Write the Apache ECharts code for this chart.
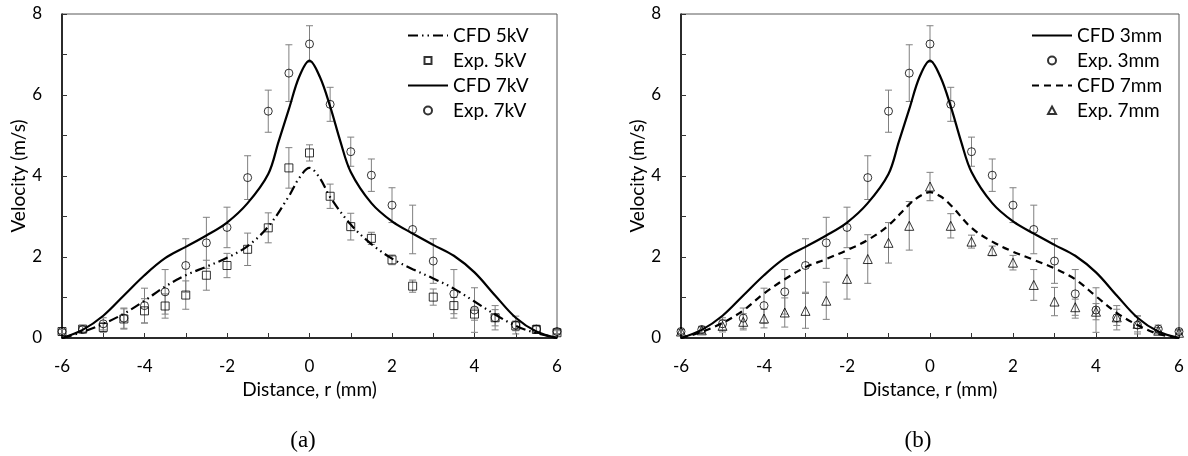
<!DOCTYPE html>
<html>
<head>
<meta charset="utf-8">
<script src="https://cdn.jsdelivr.net/npm/echarts@6/dist/echarts.min.js"></script>
<style>
html,body{margin:0;padding:0;background:#fff;}
#chart{width:1188px;height:456px;}
</style>
</head>
<body>
<div id="chart"></div>
<script>
// ---- Data ----
const expX = [-6,-5.5,-5,-4.5,-4,-3.5,-3,-2.5,-2,-1.5,-1,-0.5,0,0.5,1,1.5,2,2.5,3,3.5,4,4.5,5,5.5,6];

const exp7kV    = [0.16,0.21,0.35,0.49,0.80,1.14,1.79,2.35,2.73,3.96,5.60,6.54,7.26,5.77,4.60,4.02,3.28,2.68,1.90,1.09,0.69,0.50,0.32,0.22,0.16];
const exp7kVErr = [0.05,0.08,0.15,0.25,0.43,0.55,0.66,0.63,0.50,0.54,0.52,0.70,0.45,0.42,0.36,0.40,0.43,0.60,0.55,0.60,0.55,0.30,0.22,0.10,0.05];

const exp5kV    = [0.16,0.22,0.26,0.47,0.67,0.79,1.06,1.55,1.79,2.19,2.72,4.20,4.57,3.50,2.75,2.46,1.93,1.28,1.01,0.80,0.59,0.50,0.30,0.21,0.13];
const exp5kVErr = [0.05,0.07,0.12,0.25,0.30,0.30,0.35,0.37,0.30,0.40,0.37,0.50,0.20,0.30,0.33,0.15,0.12,0.15,0.20,0.20,0.15,0.20,0.12,0.08,0.05];

const exp3mm    = exp7kV;
const exp3mmErr = exp7kVErr;

const exp7mm    = [0.16,0.19,0.30,0.40,0.48,0.63,0.67,0.92,1.46,1.95,2.35,2.77,3.74,2.77,2.38,2.15,1.86,1.31,0.90,0.76,0.65,0.51,0.35,0.18,0.13];
const exp7mmErr = [0.05,0.08,0.15,0.20,0.23,0.36,0.43,0.46,0.50,0.60,0.50,0.60,0.35,0.30,0.16,0.12,0.18,0.38,0.35,0.20,0.20,0.20,0.20,0.08,0.05];

const cfd7kVX = [-6,-5.5,-5,-4.5,-4,-3.5,-3,-2.5,-2,-1.5,-1,-0.75,-0.5,-0.25,0,0.25,0.5,0.75,1,1.5,2,2.5,3,3.5,4,4.5,5,5.5,6];
const cfd7kV  = [0,0.20,0.55,1.05,1.55,1.97,2.25,2.53,2.85,3.33,4.05,4.85,5.65,6.45,6.85,6.45,5.72,4.85,4.10,3.33,2.88,2.58,2.30,2.03,1.62,1.05,0.50,0.16,0];

const cfd3mmX = cfd7kVX;
const cfd3mm  = cfd7kV;

const cfd5kVX = [-6,-5.5,-5,-4.5,-4,-3.5,-3,-2.5,-2,-1.5,-1,-0.5,-0.25,0,0.25,0.5,1,1.5,2,2.5,3,3.5,4,4.5,5,5.5,6];
const cfd5kV  = [0,0.15,0.35,0.60,0.92,1.27,1.55,1.76,1.98,2.27,2.75,3.50,3.95,4.20,3.95,3.48,2.80,2.32,1.96,1.70,1.47,1.22,0.90,0.58,0.30,0.12,0];

const cfd7mmX = [-6,-5.5,-5,-4.5,-4,-3.5,-3,-2.5,-2,-1.5,-1,-0.5,-0.25,0,0.25,0.5,1,1.5,2,2.5,3,3.5,4,4.5,5,5.5,6];
const cfd7mm  = [0,0.15,0.37,0.68,1.10,1.45,1.75,1.95,2.17,2.42,2.78,3.30,3.50,3.60,3.50,3.28,2.72,2.38,2.13,1.93,1.72,1.45,1.03,0.62,0.32,0.10,0];

const xTicks = [-6,-4,-2,0,2,4,6];
const yTicks = [0,2,4,6,8];

// ---- Helpers ----
const FONT = 'Lato';
const pair = (xs, ys) => xs.map((x,i) => [x, ys[i]]);
const triple = (xs, ys, es) => xs.map((x,i) => [x, ys[i], es[i]]);

function errRender(params, api) {
  const x = api.value(0), y = api.value(1), e = api.value(2);
  const t = api.coord([x, y + e]);
  const b = api.coord([x, y - e]);
  const hw = 3.5;
  const st = {stroke:'#808080', lineWidth:1};
  return {type:'group', children:[
    {type:'line', shape:{x1:t[0],y1:t[1],x2:b[0],y2:b[1]}, style:st},
    {type:'line', shape:{x1:t[0]-hw,y1:t[1],x2:t[0]+hw,y2:t[1]}, style:st},
    {type:'line', shape:{x1:b[0]-hw,y1:b[1],x2:b[0]+hw,y2:b[1]}, style:st}
  ]};
}

function xAxisCfg(gi) {
  return {
    type:'value', gridIndex:gi, min:-6, max:6, interval:1,
    name:'Distance, r (mm)', nameLocation:'middle', nameGap:37,
    nameTextStyle:{fontFamily:FONT, fontSize:19, color:'#000'},
    axisLine:{show:true, onZero:false, lineStyle:{color:'#000', width:1.5}},
    axisTick:{show:true, inside:true, length:5, lineStyle:{color:'#333'}},
    axisLabel:{fontFamily:FONT, fontSize:17, color:'#000', margin:20,
      formatter: v => xTicks.includes(v) ? String(v) : ''},
    splitLine:{show:false}
  };
}
function yAxisCfg(gi) {
  return {
    type:'value', gridIndex:gi, min:0, max:8, interval:1,
    name:'Velocity (m/s)', nameLocation:'middle', nameGap:32,
    nameTextStyle:{fontFamily:FONT, fontSize:19, color:'#000'},
    axisLine:{show:true, onZero:false, lineStyle:{color:'#000', width:1.5}},
    axisTick:{show:true, inside:true, length:5, lineStyle:{color:'#333'}},
    axisLabel:{fontFamily:FONT, fontSize:17, color:'#000', margin:20,
      formatter: v => yTicks.includes(v) ? String(v) : ''},
    splitLine:{show:false}
  };
}

function errSeries(name, gi, xs, ys, es) {
  return {name:name+' err', type:'custom', xAxisIndex:gi, yAxisIndex:gi,
    renderItem:errRender, data:triple(xs, ys, es), z:1, silent:true, clip:false};
}
function expSeries(name, gi, xs, ys, sym, size) {
  return {name:name, type:'scatter', xAxisIndex:gi, yAxisIndex:gi,
    symbol:sym, symbolSize:size, data:pair(xs, ys), z:3,
    itemStyle:{color:'rgba(0,0,0,0)', borderColor:'#000', borderWidth:1}};
}
function cfdSeries(name, gi, xs, ys, dash) {
  return {name:name, type:'line', xAxisIndex:gi, yAxisIndex:gi,
    data:pair(xs, ys), symbol:'none', smooth:0.35, z:4,
    itemStyle:{color:'#000'},
    lineStyle:{color:'#000', width:2.2, type:dash}};
}

// legend icons: 40x8 boxes with the marker drawn in the middle
const ICON_SQUARE   = 'path://M0,0M40,8M16.5,0.5L23.5,0.5L23.5,7.5L16.5,7.5Z';
const ICON_TRIANGLE = 'path://M0,0M40,8M20,0L24,7.5L16,7.5Z';
const ICON_CIRCLE   = 'circle';

const lineItem = n => ({name:n, itemStyle:{opacity:0}});
const symItem = (n, ic) => ({name:n, icon:ic});

const legendBase = {
  orient:'vertical', top:21, itemWidth:40, itemHeight:8, itemGap:6,
  textStyle:{fontFamily:FONT, fontSize:19, color:'#000'}
};

const option = {
  animation:false,
  backgroundColor:'#fff',
  grid:[
    {left:62, top:14, width:495, height:324, show:true, borderColor:'#595959', borderWidth:1, containLabel:false},
    {left:681, top:14, width:498, height:324, show:true, borderColor:'#595959', borderWidth:1, containLabel:false}
  ],
  xAxis:[xAxisCfg(0), xAxisCfg(1)],
  yAxis:[yAxisCfg(0), yAxisCfg(1)],
  legend:[
    Object.assign({}, legendBase, {left:402, data:[lineItem('CFD 5kV'), symItem('Exp. 5kV',ICON_SQUARE), lineItem('CFD 7kV'), symItem('Exp. 7kV',ICON_CIRCLE)]}),
    Object.assign({}, legendBase, {left:1026, data:[lineItem('CFD 3mm'), symItem('Exp. 3mm',ICON_CIRCLE), lineItem('CFD 7mm'), symItem('Exp. 7mm',ICON_TRIANGLE)]})
  ],
  title:[
    {text:'(a)', left:298, top:424, textAlign:'center', textStyle:{fontFamily:'Liberation Serif', fontSize:23, fontWeight:'normal', color:'#000'}},
    {text:'(b)', left:913, top:424, textAlign:'center', textStyle:{fontFamily:'Liberation Serif', fontSize:23, fontWeight:'normal', color:'#000'}}
  ],
  series:[
    errSeries('Exp. 7kV', 0, expX, exp7kV, exp7kVErr),
    errSeries('Exp. 5kV', 0, expX, exp5kV, exp5kVErr),
    cfdSeries('CFD 5kV', 0, cfd5kVX, cfd5kV, [10,4,1.5,4,1.5,4]),
    expSeries('Exp. 5kV', 0, expX, exp5kV, 'rect', 8),
    cfdSeries('CFD 7kV', 0, cfd7kVX, cfd7kV, 'solid'),
    expSeries('Exp. 7kV', 0, expX, exp7kV, 'circle', 8),

    errSeries('Exp. 3mm', 1, expX, exp3mm, exp3mmErr),
    errSeries('Exp. 7mm', 1, expX, exp7mm, exp7mmErr),
    cfdSeries('CFD 3mm', 1, cfd3mmX, cfd3mm, 'solid'),
    expSeries('Exp. 3mm', 1, expX, exp3mm, 'circle', 8),
    cfdSeries('CFD 7mm', 1, cfd7mmX, cfd7mm, [7,5]),
    expSeries('Exp. 7mm', 1, expX, exp7mm, 'triangle', 9)
  ]
};

const chart = echarts.init(document.getElementById('chart'), null, {renderer:'canvas'});
chart.setOption(option);
</script>
</body>
</html>
